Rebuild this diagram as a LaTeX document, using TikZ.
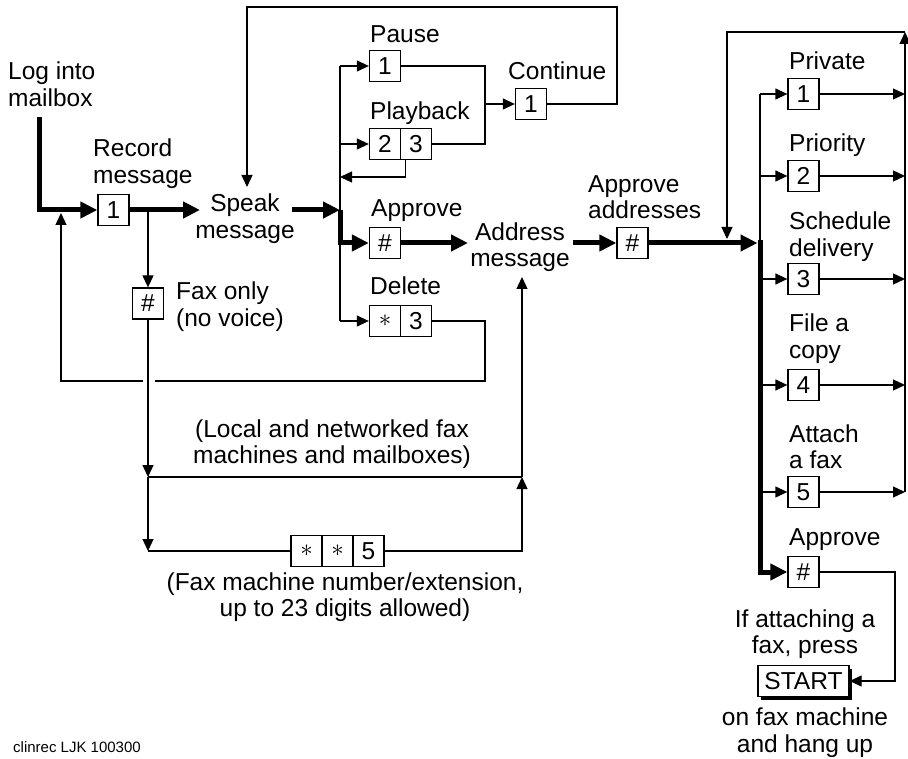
\documentclass[tikz,border=0pt]{standalone}
\usepackage{fontspec}
\setmainfont{Liberation Sans}
\usetikzlibrary{arrows.meta,shadows}
\begin{document}
\begin{tikzpicture}[x=1pt,y=-1pt,
  txt/.style={font=\fontsize{24.5}{26.5}\selectfont, inner sep=0pt},
  key/.style={draw, line width=1.3pt, minimum width=31pt, minimum height=31pt, inner sep=0pt, fill=white, font=\fontsize{24.5}{26.5}\selectfont},
  ln/.style={line width=1.3pt},
  thn/.style={line width=1.3pt, -{Triangle[length=12pt,width=11pt]}},
  thk/.style={line width=5pt, -{Triangle[length=17pt,width=16pt]}},
]
\useasboundingbox (0,0) rectangle (908,759);

% ---- left part
\node[txt, align=left, anchor=base west] (login) at (8,106.5) {Log into\\mailbox};
\coordinate (lstart) at (39,117);
\node[key] (rec) at (113.5,210) {1};
\node[txt, align=left, anchor=base west] (reclbl) at (93,183.5) {Record\\message};
\node[txt, align=center, anchor=base] (speak) at (245,238.5) {Speak\\message};
\coordinate (speakin) at (200,210);
\coordinate (speakout) at (292,210);
\coordinate (speaktop) at (247,187);

\draw[thk] (lstart) |- (rec.west);
\draw[thk] (rec.east) -- (speakin);

\node[key] (fax) at (148,303.5) {\#};
\node[txt, align=left, anchor=base west] (faxlbl) at (176,326.5) {Fax only\\(no voice)};
\coordinate (faxbr) at (148,210);
\coordinate (lj1) at (148,477);
\coordinate (lj2) at (148,551);
\coordinate (rj1) at (522,477);
\draw[thn] (faxbr) -- (fax.north);
\draw[thn] (fax.south) -- (lj1);
\draw[thn] (lj1) -- (lj2);
\draw[ln] (lj1) -- (rj1);

\node[key] (s1) at (306.5,551) {$\ast$};
\node[key] (s2) at (337.5,551) {$\ast$};
\node[key] (s3) at (368.5,551) {5};
\draw[ln] (lj2) -- (s1.west);
\draw[thn] (s3.east) -| (rj1);

\node[txt, align=center, anchor=base] (loclbl) at (332,463.5) {(Local and networked fax\\machines and mailboxes)};
\node[txt, align=center, anchor=base] (numlbl) at (345,616.5) {(Fax machine number/extension,\\up to 23 digits allowed)};

% ---- speak options
\coordinate (sp1) at (340,66);
\coordinate (sp2) at (340,144);
\coordinate (sp3) at (340,210);
\coordinate (sp4) at (340,321);
\draw[thk] (speakout) -- (sp3);
\draw[ln] (sp1) -- (sp4);

\node[key] (p1) at (385,66) {1};
\node[txt, anchor=base west] (pauselbl) at (370,43) {Pause};
\node[key] (pbA) at (385,144) {2};
\node[key] (pbB) at (416,144) {3};
\node[txt, anchor=base west] (pblbl) at (370,120) {Playback};
\node[key] (c1) at (531,104) {1};
\node[txt, anchor=base west] (clbl) at (508,80) {Continue};
\node[key] (ap) at (385,243) {\#};
\node[txt, anchor=base west] (aplbl) at (371,217) {Approve};
\node[key] (da) at (385,321) {$\ast$};
\node[key] (db) at (416,321) {3};
\node[txt, anchor=base west] (dlbl) at (370,295) {Delete};

\draw[thn] (sp1) -- (p1.west);
\draw[thn] (sp2) -- (pbA.west);
\draw[thn] (sp4) -- (da.west);
\draw[thk] (sp3) |- (ap.west);

\coordinate (pj1) at (485,66);
\coordinate (pj2) at (485,104);
\coordinate (pj3) at (485,144);
\draw[ln] (p1.east) -- (pj1) -- (pj3) -- (pbB.east);
\draw[thn] (pj2) -- (c1.west);
\draw[thn] (c1.east) -- (617,104) -- (617,7) -| (speaktop);
\draw[thn] ([xshift=4.5pt]pbA.south east) |- (340,177);

\coordinate (dj1) at (485,381);
\draw[ln] (db.east) -| (dj1) -- (155,381);
\draw[thn] (143,381) -| (61,213);

% ---- address
\node[txt, align=center, anchor=base] (addr) at (520,267) {Address\\message};
\coordinate (addrin) at (468,243);
\coordinate (addrout) at (573,243);
\coordinate (addrbot) at (522,277);
\draw[thk] (ap.east) -- (addrin);
\draw[thn] (rj1) -- (addrbot);

\node[key] (aa) at (632.5,243) {\#};
\node[txt, align=left, anchor=base west] (aalbl) at (588,219) {Approve\\addresses};
\draw[thk] (addrout) -- (aa.west);
\draw[thk] (aa.east) -- (757.5,243);

% ---- right column
\node[key] (r1) at (803.5,94) {1};
\node[key] (r2) at (803.5,176) {2};
\node[key] (r3) at (803.5,279) {3};
\node[key] (r4) at (803.5,385) {4};
\node[key] (r5) at (803.5,492) {5};
\node[key] (r6) at (803.5,572) {\#};
\node[txt, anchor=base west] at (789,70) {Private};
\node[txt, anchor=base west] at (789,152) {Priority};
\node[txt, align=left, anchor=base west] at (789,256.5) {Schedule\\delivery};
\node[txt, align=left, anchor=base west] at (789,358.5) {File a\\copy};
\node[txt, align=left, anchor=base west] at (789,468.5) {Attach\\a fax};
\node[txt, anchor=base west] at (789,545) {Approve};

\draw[ln] (760,94) -- (760,243);
\draw[thk] (760,240.5) |- (r6.west);
\foreach \r/\y in {r1/94,r2/176,r3/279,r4/385,r5/492}{
  \draw[thn] (760,\y) -- (\r.west);
  \draw[thn] (\r.east) -- (905,\y);
}
\draw[thn] (905,492) -- (905,32);
\draw[thn] (905,32) -| (727,239);

\fill (761,668.5) rectangle (852,699.5);
\node[key, minimum width=91pt] (start) at (803.5,681) {START};
\draw[thn] (r6.east) -- (895,572) |- (start.east);
\node[txt, align=center, anchor=base] at (805,653.5) {If attaching a\\fax, press};
\node[txt, align=center, anchor=base] at (805,752) {on fax machine\\and hang up};

\node[font=\fontsize{15}{17}\selectfont, anchor=base west, inner sep=0pt] at (13,752) {clinrec LJK 100300};
\end{tikzpicture}
\end{document}
